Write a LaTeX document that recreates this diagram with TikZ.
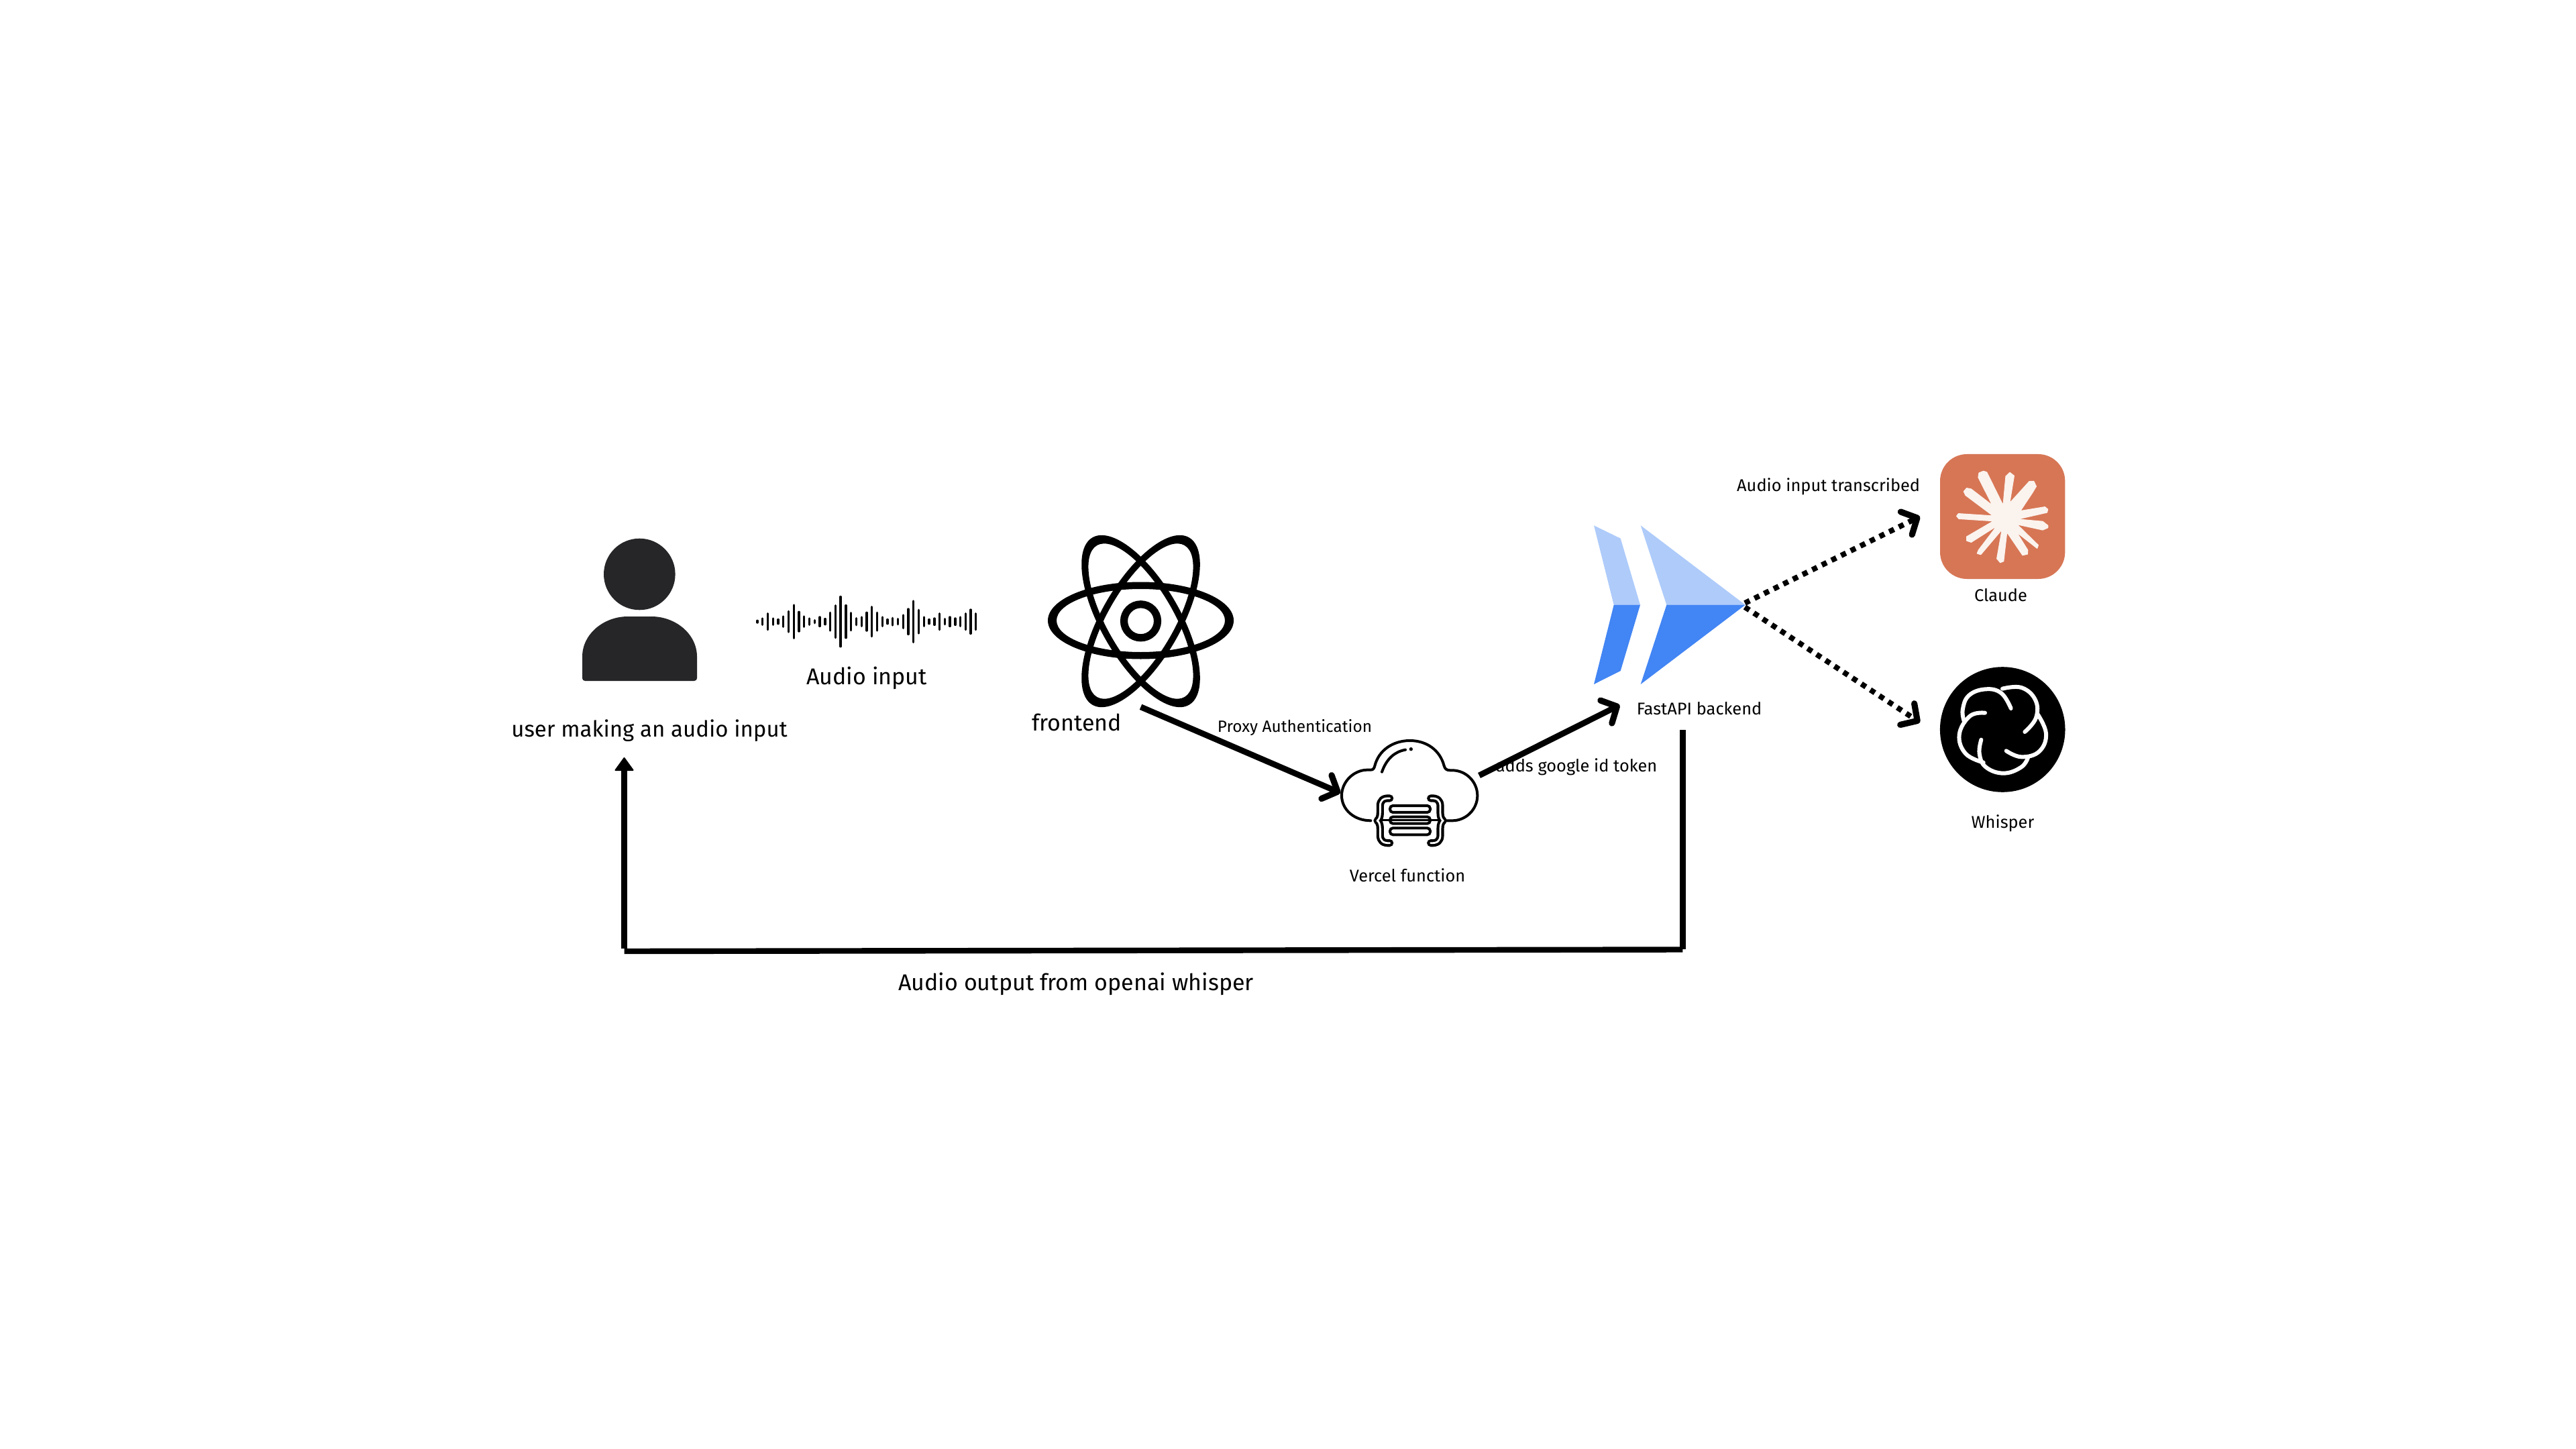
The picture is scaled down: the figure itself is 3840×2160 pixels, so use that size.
\documentclass[tikz,border=0pt]{standalone}
\usepackage{fontspec}
\setmainfont{Fira Sans}
\usetikzlibrary{arrows.meta}
\definecolor{personc}{HTML}{262628}
\definecolor{gcplight}{HTML}{AECBFA}
\definecolor{gcpdark}{HTML}{4285F4}
\definecolor{claudebg}{HTML}{D77655}
\definecolor{claudefg}{HTML}{FBF3EE}
\tikzset{
  bigtext/.style={inner sep=0pt,anchor=base,font=\fontsize{8.5}{11}\selectfont},
  usertext/.style={inner sep=0pt,anchor=base,font=\fontsize{8.25}{11}\selectfont},
  smalltext/.style={inner sep=0pt,anchor=base,font=\fontsize{6.35}{8}\selectfont},
  proxytext/.style={inner sep=0pt,anchor=base,font=\fontsize{6.1}{8}\selectfont},
  tipped/.style={-{Straight Barb[length=4.5pt,width=9.5pt,round,line width=2.3pt]}},
  solidconn/.style={tipped,line width=2.2pt,black},
  dotconn/.style={tipped,line width=2pt,black,dash pattern=on 2pt off 2pt},
  returnline/.style={line width=2.1pt,black},
  returntip/.style={-{Triangle[length=5.2pt,width=7.4pt,round,line width=0.5pt]},line width=2.1pt,black},
  wavebar/.style={line width=0.85pt,line cap=round,black},
  atomring/.style={fill=black,even odd rule},
  atomthick/.style={line width=2.8pt,black},
  knot/.style={white,line width=1.5pt,line cap=round},
  zoomed/.style={x=0.083333pt,y=-0.083333pt},
}
\begin{document}
\begin{tikzpicture}[x=0.25pt,y=-0.25pt]
\useasboundingbox (0,0) rectangle (3840,2160);
\fill[white] (0,0) rectangle (3840,2160);

% invisible anchors for the icons
\node[inner sep=0pt,minimum width=44pt,minimum height=63.5pt] (atom) at (1700.5,926) {};
\node[inner sep=0pt,minimum width=51.25pt,minimum height=40pt] (vercel) at (2101.5,1182) {};
\coordinate (vercelout) at (2205,1156);
\coordinate (apiin) at (2414.5,1051);
\coordinate (dotupstart) at (2601,899);
\coordinate (dotupend) at (2862,770);
\coordinate (dotdownstart) at (2601,905);
\coordinate (dotdownend) at (2862,1077);
\coordinate (retstart) at (2508.3,1088);
\coordinate (retcornerb) at (2508.3,1415);
\coordinate (rethb) at (2508.3,1415.5);
\coordinate (rethl) at (930.5,1418);
\coordinate (retcorner) at (930.5,1414);
\coordinate (retend) at (930.5,1129);

% person
\fill[personc] (953.3,856) circle [radius=53.3];
\fill[personc,rounded corners=1pt] (868,1015) -- (868,983) .. controls (868,945) and (900,919) .. (940,919) -- (967,919) .. controls (1007,919) and (1039,945) .. (1039,983) -- (1039,1015) -- cycle;

% waveform
\begin{scope}[shift={(1100,870)},zoomed]
\foreach \px/\h in {87/4,110/14,133/36,157/14,180/9,203/23,226/46,250/74,273/43,296/23,320/14,343/6,366/20,390/12,412/40,436/72,459/111,483/72,506/39,529/15,553/20,576/40,599/66,622/40,646/20,669/9,692/16,715/12,739/29,762/56,785/92,809/52,832/20,855/9,879/14,902/36,925/12,948/20,972/14,995/20,1018/36,1041/53,1064/36}
  \draw[wavebar] (\px,170-\h) -- (\px,170+\h);
\end{scope}

% react atom
\fill[atomring,rotate around={60:(1700.5,926)}] (1700.5,926) ellipse [x radius=144,y radius=59] (1700.5,926) ellipse [x radius=130.5,y radius=49.5];
\fill[atomring,rotate around={-60:(1700.5,926)}] (1700.5,926) ellipse [x radius=144,y radius=59] (1700.5,926) ellipse [x radius=130.5,y radius=49.5];
\fill[atomring] (1700.5,925) ellipse [x radius=138.5,y radius=57.5] (1700.5,925) ellipse [x radius=125.5,y radius=47];
\draw[atomthick] (1700.5,925.8) circle [radius=25];

% vercel cloud
\begin{scope}[shift={(1950,1080)},zoomed]
\draw[line width=1pt,line cap=round,fill=white] (280,430) .. controls (205,430) and (150,380) .. (150,318) .. controls (150,255) and (205,203) .. (265,203) -- (280,203) .. controls (292,203) and (295,195) .. (298,185) .. controls (315,115) and (380,72) .. (455,72) .. controls (530,72) and (590,115) .. (608,185) .. controls (612,198) and (618,205) .. (635,205) -- (645,205) .. controls (705,205) and (757,255) .. (757,318) .. controls (757,380) and (705,430) .. (645,430) -- (615,430);
\draw[line width=1pt,line cap=round] (330,212) .. controls (350,155) and (385,122) .. (435,113);
\fill (460,110) circle [radius=8];
\foreach \yy in {378,428,478} {
  \draw[line width=1pt,rounded corners=1.1pt] (366,\yy-15) rectangle (546,\yy+15);
}
% braces
\foreach \sx/\dr in {0/1,913/-1} {
  \begin{scope}[xshift=\sx*0.083333pt,x=\dr*0.083333pt]
  \draw[line width=2.8pt,line cap=round,line join=round] (365,330) .. controls (335,328) and (322,340) .. (322,365) -- (322,395) .. controls (322,415) and (316,425) .. (309,430) .. controls (316,435) and (322,445) .. (322,465) -- (322,495) .. controls (322,520) and (335,532) .. (365,530);
  \draw[white,line width=0.7pt,line cap=round,line join=round] (365,330) .. controls (335,328) and (322,340) .. (322,365) -- (322,395) .. controls (322,415) and (316,425) .. (309,430) .. controls (316,435) and (322,445) .. (322,465) -- (322,495) .. controls (322,520) and (335,532) .. (365,530);
  \end{scope}
}
\draw[line width=0.9pt] (325,428) -- (590,428);
\end{scope}

% FastAPI chevrons
\fill[gcplight] (2376,783.3) -- (2415.7,802.7) -- (2445,901.7) -- (2405.7,901.7) -- cycle;
\fill[gcpdark] (2376,1020) -- (2415.7,1000) -- (2445,901.7) -- (2405.7,901.7) -- cycle;
\fill[gcplight] (2445.7,783.3) -- (2601.7,901.7) -- (2484.3,901.7) -- cycle;
\fill[gcpdark] (2445.7,1020) -- (2601.7,901.7) -- (2484.3,901.7) -- cycle;

% Claude icon
\fill[claudebg,rounded corners=10pt] (2892,677) rectangle (3078.3,863);
\begin{scope}[shift={(2860,660)},zoomed]
\fill[claudefg,draw=claudefg,line width=0.3pt,line join=round] (378,280) -- (390,150) -- (408,133) -- (427,148) -- (407,270) -- (495,173) -- (515,172) -- (526,195) -- (510,222) -- (455,305) -- (565,287) -- (578,298) -- (574,312) -- (442,342) -- (555,352) -- (578,370) -- (578,380) -- (555,390) -- (440,365) -- (535,458) -- (530,472) -- (438,400) -- (488,480) -- (487,498) -- (465,503) -- (395,400) -- (380,530) -- (365,536) -- (350,518) -- (373,388) -- (278,500) -- (262,495) -- (268,480) -- (350,372) -- (235,445) -- (215,438) -- (215,420) -- (335,350) -- (180,340) -- (170,328) -- (178,317) -- (333,327) -- (210,235) -- (202,218) -- (215,203) -- (235,207) -- (330,280) -- (267,155) -- (270,135) -- (290,127) -- (305,132) -- cycle;
\end{scope}

% Whisper icon
\fill[black] (2985.2,1087.5) circle [radius=93.3];
\begin{scope}[shift={(2860,980)},zoomed]
\draw[knot] plot[smooth,tension=.7] coordinates {(413,228) (370,160) (300,142) (225,170) (197,235) (205,290)};
\draw[knot] plot[smooth,tension=.7] coordinates {(297,248) (230,262) (182,345) (210,430) (290,470)};
\draw[knot] plot[smooth,tension=.7] coordinates {(280,368) (272,430) (300,490) (380,518) (460,490) (490,445)};
\draw[knot] plot[smooth,tension=.7] coordinates {(392,418) (460,445) (540,420) (570,340) (530,250)};
\draw[knot] plot[smooth,tension=.7] coordinates {(475,333) (525,270) (522,190) (460,135) (375,140)};
\end{scope}

% connectors
\draw[solidconn] (atom.south) -- (vercel.west);
\draw[solidconn] (vercelout) -- (apiin);
\draw[dotconn] (dotupstart) -- (dotupend);
\draw[dotconn] (dotdownstart) -- (dotdownend);
\draw[returnline] (retstart) -- (retcornerb);
\draw[returnline] (rethb) -- (rethl);
\draw[returntip] (retcorner) -- (retend);

% labels
\node[usertext] (l1) at (968,1098) {user making an audio input};
\node[bigtext] (l2) at (1292,1020) {Audio input};
\node[bigtext] (l3) at (1605,1089) {frontend};
\node[bigtext] (l4) at (1604,1476) {Audio output from openai whisper};
\node[proxytext] (l5) at (1930,1091.5) {Proxy Authentication};
\node[smalltext] (l6) at (2350,1150) {adds google id token};
\node[smalltext] (l7) at (2533,1065.5) {FastAPI backend};
\node[smalltext] (l8) at (2098,1314) {Vercel function};
\node[smalltext] (l9) at (2725.6,732) {Audio input transcribed};
\node[smalltext] (l10) at (2982.5,896) {Claude};
\node[smalltext] (l11) at (2985.5,1234) {Whisper};
\end{tikzpicture}
\end{document}
